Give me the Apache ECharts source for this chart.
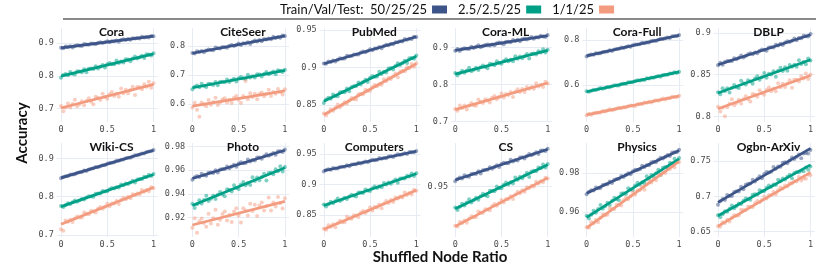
<!DOCTYPE html>
<html><head><meta charset="utf-8">
<script src="https://cdn.jsdelivr.net/npm/echarts@6/dist/echarts.min.js"></script>
<style>html,body{margin:0;padding:0;background:#fff}#chart{width:830px;height:265px}</style>
</head><body><div id="chart"></div>
<script>
// ---- data (accuracy values in units of 1e-4) ----
const panels = ['Cora','CiteSeer','PubMed','Cora-ML','Cora-Full','DBLP','Wiki-CS','Photo','Computers','CS','Physics','Ogbn-ArXiv'];
const groups = ['50/25/25','2.5/2.5/25','1/1/25'];
const ratio = Array.from({length:41},(_,i)=>i/40);
const xTicks = [0,0.5,1];
const yTicks = [[0.7,0.8,0.9],[0.6,0.7,0.8],[0.85,0.9,0.95],[0.7,0.8,0.9],[0.6,0.8],[0.8,0.85,0.9],[0.7,0.8,0.9],[0.92,0.94,0.96,0.98],[0.85,0.9,0.95],[0.95],[0.96,0.98],[0.65,0.7,0.75]];
const yMin = [0.6595,0.538,0.8273,0.6985,0.4356,0.7932,0.6948,0.9033,0.8139,0.9043,0.9473,0.6425];
const yMax = [0.9457,0.862,0.9527,0.9525,0.853,0.906,0.9399,0.9831,0.968,0.9897,0.9955,0.7755];
const fitBlue = [[0.885,0.921],[0.775,0.835],[0.905,0.941],[0.892,0.932],[0.729,0.821],[0.862,0.898],[0.849,0.921],[0.953,0.977],[0.9225,0.9545],[0.956,0.984],[0.9697,0.9917],[0.6915,0.768]];
const fitGreen = [[0.799,0.867],[0.656,0.716],[0.855,0.915],[0.828,0.892],[0.570,0.658],[0.828,0.868],[0.774,0.858],[0.930,0.962],[0.8655,0.9175],[0.930,0.970],[0.9574,0.9874],[0.6725,0.7445]];
const fitSalmon = [[0.702,0.774],[0.593,0.645],[0.837,0.905],[0.732,0.804],[0.467,0.551],[0.809,0.849],[0.728,0.824],[0.9135,0.9335],[0.8265,0.8905],[0.914,0.958],[0.952,0.986],[0.658,0.734]];

const coraBlue = [8856,8843,8892,8873,8898,8865,8906,8931,8914,8911,8972,8953,8946,8983,8974,8959,9004,9023,8998,9021,9056,9021,9056,9051,9080,9039,9088,9115,9092,9123,9098,9147,9134,9153,9140,9193,9166,9185,9168,9217,9204];
const coraGreen = [7946,8023,8060,8017,8118,8063,8044,8137,8134,8111,8200,8113,8214,8223,8212,8293,8226,8279,8328,8257,8354,8391,8356,8353,8466,8395,8436,8409,8502,8499,8448,8525,8586,8527,8564,8613,8542,8659,8648,8617,8690];
const coraSalmon = [7084,6926,7040,7162,7036,7142,7272,7074,7140,7230,7104,7234,7316,7214,7136,7362,7332,7262,7456,7354,7300,7438,7512,7386,7452,7366,7616,7474,7580,7470,7568,7666,7420,7662,7656,7594,7748,7670,7824,7634,7772];
const citeBlue = [7759,7741,7816,7789,7828,7780,7843,7882,7858,7855,7948,7921,7912,7969,7957,7936,8005,8035,7999,8035,8089,8038,8092,8086,8131,8071,8146,8188,8155,8203,8167,8242,8224,8254,8236,8317,8278,8308,8284,8359,8341];
const citeGreen = [6505,6595,6635,6575,6695,6620,6590,6700,6690,6655,6760,6645,6765,6770,6750,6845,6755,6815,6870,6775,6890,6930,6880,6870,7005,6910,6955,6915,7025,7015,6945,7035,7105,7025,7065,7120,7025,7165,7145,7100,7185];
const citeSalmon = [5882,6047,5804,5560,6054,5979,5920,6141,5978,6071,6220,5969,6054,6155,6200,6053,6146,6031,6212,6273,6150,6035,6280,6790,6162,6367,6244,6353,6166,6347,6400,6269,6346,6495,6276,6417,6350,6515,6416,6325,6506];
const pubBlue = [9053,9051,9080,9075,9092,9080,9105,9122,9118,9121,9156,9151,9152,9175,9175,9172,9199,9213,9205,9221,9243,9230,9252,9254,9273,9257,9286,9304,9297,9317,9309,9338,9336,9350,9348,9379,9370,9384,9380,9409,9407];
const pubGreen = [8528,8573,8598,8583,8640,8619,8616,8669,8674,8669,8720,8683,8740,8751,8752,8799,8772,8805,8836,8807,8862,8887,8876,8881,8944,8915,8942,8935,8988,8993,8974,9019,9056,9033,9058,9089,9060,9125,9126,9117,9160];
const pubSalmon = [8386,8359,8400,8443,8424,8463,8508,8471,8500,8535,8516,8561,8594,8581,8574,8643,8648,8643,8704,8691,8690,8737,8768,8749,8778,8769,8844,8821,8860,8845,8882,8919,8870,8943,8954,8951,9002,8995,9046,9011,9058];
const mlBlue = [8908,8956,8902,8958,8978,8966,8958,9020,8986,9016,9060,9004,9032,9064,9082,9052,9082,9060,9112,9134,9110,9088,9156,9154,9140,9198,9174,9208,9168,9220,9240,9214,9240,9284,9236,9278,9268,9316,9298,9282,9334];
const mlGreen = [8312,8240,8304,8372,8316,8376,8448,8356,8396,8448,8392,8464,8512,8468,8436,8556,8548,8520,8624,8580,8560,8636,8680,8624,8664,8628,8760,8696,8756,8708,8764,8820,8704,8832,8836,8812,8896,8864,8948,8860,8936];
const mlSalmon = [7338,7290,7428,7362,7428,7320,7434,7500,7440,7422,7596,7530,7500,7602,7566,7512,7638,7686,7602,7662,7758,7644,7740,7716,7794,7662,7800,7872,7794,7878,7794,7932,7884,7932,7884,8034,7944,7992,7932,8070,8022];
const fullBlue = [7268,7321,7354,7347,7412,7399,7404,7465,7478,7481,7540,7511,7576,7595,7604,7659,7640,7681,7720,7699,7762,7795,7792,7805,7876,7855,7890,7891,7952,7965,7954,8007,8052,8037,8070,8109,8088,8161,8170,8169,8220];
const fullGreen = [5716,5694,5740,5788,5774,5818,5868,5836,5870,5910,5896,5946,5984,5976,5974,6048,6058,6058,6124,6116,6120,6172,6208,6194,6228,6224,6304,6286,6330,6320,6362,6404,6360,6438,6454,6456,6512,6510,6566,6536,6588];
const fullSalmon = [4658,4717,4674,4741,4772,4771,4774,4847,4824,4865,4920,4875,4914,4957,4986,4967,5008,4997,5060,5093,5080,5069,5148,5157,5154,5223,5210,5255,5226,5289,5320,5305,5342,5397,5360,5413,5414,5473,5466,5461,5524];
const dblpBlue = [8614,8642,8619,8651,8665,8663,8663,8698,8685,8704,8730,8706,8724,8744,8757,8746,8765,8758,8788,8803,8795,8788,8826,8829,8826,8859,8851,8872,8856,8886,8900,8891,8908,8934,8914,8939,8938,8966,8961,8957,8987];
const dblpGreen = [8289,8266,8336,8304,8338,8285,8343,8377,8348,8340,8428,8396,8382,8434,8417,8391,8455,8480,8439,8470,8519,8463,8512,8501,8541,8476,8546,8583,8545,8588,8547,8617,8594,8619,8596,8672,8628,8653,8624,8694,8671];
const dblpSalmon = [8114,8058,8104,8000,8109,8152,8204,8133,8161,8198,8154,8206,8240,8205,8179,8267,8259,8236,8312,8277,8260,8315,8346,8302,8330,8301,8398,8348,8391,8353,8393,8433,8344,8438,8439,8419,8480,8454,8515,8447,8502];
const wikiBlue = [8479,8512,8535,8538,8577,8577,8586,8623,8636,8644,8680,8672,8711,8727,8738,8772,8769,8796,8822,8818,8856,8879,8884,8897,8939,8935,8959,8966,9003,9016,9017,9050,9079,9078,9101,9127,9123,9166,9177,9183,9215];
const wikiGreen = [7756,7733,7778,7825,7810,7853,7902,7869,7902,7941,7926,7975,8012,8003,8000,8073,8082,8081,8146,8137,8140,8191,8226,8211,8244,8239,8318,8299,8342,8331,8372,8413,8368,8445,8460,8461,8516,8513,8568,8537,8588];
const wikiSalmon = [7150,7110,7376,7344,7400,7340,7428,7484,7456,7456,7584,7552,7544,7624,7612,7588,7684,7728,7684,7736,7812,7748,7824,7820,7884,7808,7912,7972,7932,8000,7956,8060,8040,8084,8064,8176,8128,8172,8144,8248,8228];
const photoBlue = [9519,9540,9551,9542,9569,9557,9554,9579,9580,9576,9600,9580,9607,9611,9610,9632,9617,9632,9646,9630,9656,9667,9660,9661,9691,9675,9687,9682,9707,9708,9697,9718,9735,9722,9733,9747,9731,9762,9761,9755,9775];
const photoGreen = [9316,9280,9312,9346,9318,9348,9384,9338,9358,9384,9356,9392,9416,9394,9378,9438,9434,9420,9472,9450,9440,9478,9500,9472,9492,9474,9540,9508,9538,9514,9542,9570,9512,9576,9578,9566,9608,9592,9634,9590,9628];
const photoSalmon = [9111,9192,9069,9166,9191,9152,9121,9230,9147,9192,9265,9138,9179,9228,9249,9174,9219,9160,9249,9278,9215,9156,9277,9258,9215,9316,9253,9306,9211,9300,9325,9258,9295,9368,9257,9326,9291,9372,9321,9274,9363];
const compBlue = [9214,9237,9250,9243,9272,9262,9261,9288,9291,9289,9315,9297,9326,9332,9333,9357,9344,9361,9377,9363,9391,9404,9399,9402,9434,9420,9434,9431,9458,9461,9452,9475,9494,9483,9496,9512,9498,9531,9532,9528,9550];
const compGreen = [8671,8640,8677,8716,8693,8728,8769,8728,8753,8784,8761,8802,8831,8814,8803,8868,8869,8860,8917,8900,8895,8938,8965,8942,8967,8954,9025,8998,9033,9014,9047,9080,9027,9096,9103,9096,9143,9132,9179,9140,9183];
const compSalmon = [8274,8257,8333,8307,8347,8300,8364,8404,8381,8379,8473,8447,8439,8497,8486,8466,8536,8567,8532,8569,8624,8574,8629,8624,8670,8611,8687,8730,8698,8747,8712,8788,8771,8802,8785,8867,8829,8860,8837,8913,8896];
const csBlue = [9549,9571,9583,9575,9603,9592,9590,9616,9618,9615,9640,9621,9649,9654,9654,9677,9663,9679,9694,9679,9706,9718,9712,9714,9745,9730,9743,9739,9765,9767,9757,9779,9797,9785,9797,9812,9797,9829,9829,9824,9845];
const csGreen = [9312,9289,9317,9346,9330,9356,9387,9356,9376,9399,9382,9413,9435,9422,9414,9464,9464,9458,9501,9488,9485,9518,9538,9521,9540,9530,9584,9564,9590,9576,9602,9626,9587,9639,9644,9640,9675,9667,9702,9674,9706];
const csSalmon = [9145,9139,9180,9170,9193,9173,9208,9231,9222,9224,9274,9264,9263,9295,9292,9285,9324,9342,9328,9349,9380,9357,9388,9388,9414,9388,9429,9453,9440,9468,9454,9495,9489,9508,9502,9546,9530,9549,9540,9581,9575];
const phyBlue = [9692,9705,9713,9711,9727,9723,9724,9739,9742,9743,9757,9750,9766,9770,9772,9786,9781,9791,9800,9795,9810,9818,9817,9820,9838,9832,9841,9841,9856,9859,9856,9869,9880,9876,9884,9893,9888,9906,9908,9907,9920];
const phyGreen = [9582,9568,9587,9608,9597,9616,9637,9618,9631,9648,9637,9659,9674,9667,9662,9696,9697,9694,9723,9716,9714,9737,9751,9741,9754,9749,9785,9773,9791,9783,9800,9818,9792,9828,9832,9830,9854,9850,9874,9856,9878];
const phySalmon = [9523,9521,9549,9544,9560,9548,9572,9589,9584,9587,9621,9616,9616,9639,9638,9635,9661,9675,9666,9682,9703,9690,9711,9713,9731,9715,9743,9761,9753,9773,9764,9793,9790,9804,9801,9832,9822,9836,9831,9860,9857];
const arxBlue = [6883,6932,6961,6950,7021,7004,7005,7062,7071,7070,7135,7102,7163,7178,7183,7234,7211,7248,7283,7258,7317,7346,7339,7348,7415,7390,7421,7418,7475,7484,7469,7508,7549,7530,7559,7594,7539,7608,7613,7608,7655];
const arxGreen = [6731,6705,6747,6791,6783,6823,6869,6833,6863,6899,6891,6937,6971,6959,6953,7023,7029,7025,7087,7075,7075,7123,7155,7137,7167,7159,7235,7213,7253,7239,7277,7305,7257,7331,7343,7341,7363,7357,7409,7375,7423];
const arxSalmon = [6576,6573,6632,6623,6668,6645,6696,6731,6724,6731,6812,6803,6806,6853,6854,6849,6904,6933,6918,6951,6996,6971,7016,7021,7060,7029,7088,7125,7112,7153,7138,7187,7184,7213,7210,7273,7226,7255,7248,7307,7304];

const points = [
  [coraBlue,coraGreen,coraSalmon],[citeBlue,citeGreen,citeSalmon],[pubBlue,pubGreen,pubSalmon],
  [mlBlue,mlGreen,mlSalmon],[fullBlue,fullGreen,fullSalmon],[dblpBlue,dblpGreen,dblpSalmon],
  [wikiBlue,wikiGreen,wikiSalmon],[photoBlue,photoGreen,photoSalmon],[compBlue,compGreen,compSalmon],
  [csBlue,csGreen,csSalmon],[phyBlue,phyGreen,phySalmon],[arxBlue,arxGreen,arxSalmon]
];
const fits = [fitBlue, fitGreen, fitSalmon];

// ---- styling / layout ----
const colors = ['#3C5488','#00A087','#F39B7F'];
const colX0 = [61,192.4,323.8,455.2,586.6,718];
const unitW = 92.5, padX = 0.045;
const rowTop = [28,143], plotH = 94;
const tickFont = {fontFamily:'DejaVu Sans Mono', fontSize:8.5, color:'#4a4a4a'};
const gridColor = '#e7ebf4';
const fmt = v => String(parseFloat(Number(v).toFixed(4)));

const grid = [], xAxis = [], yAxis = [], scatterSeries = [], lineSeries = [], graphic = [];
panels.forEach((name, k) => {
  const c = k % 6, r = Math.floor(k / 6);
  grid.push({left: colX0[c] - padX*unitW, top: rowTop[r], width: (1+2*padX)*unitW, height: plotH, containLabel:false});
  xAxis.push({type:'value', gridIndex:k, min:-padX, max:1+padX,
    axisLine:{show:false}, axisTick:{show:false, customValues:xTicks},
    axisLabel:{customValues:xTicks, formatter:fmt, margin:3, ...tickFont},
    splitLine:{show:true, lineStyle:{color:gridColor, width:1}}});
  yAxis.push({type:'value', gridIndex:k, min:yMin[k], max:yMax[k],
    axisLine:{show:false}, axisTick:{show:false, customValues:yTicks[k]},
    axisLabel:{customValues:yTicks[k], formatter:fmt, margin:3, ...tickFont},
    splitLine:{show:true, lineStyle:{color:gridColor, width:1}}});
  points[k].forEach((arr, g) => {
    scatterSeries.push({type:'scatter', name:groups[g], xAxisIndex:k, yAxisIndex:k, symbolSize:4, z:2,
      silent:true, itemStyle:{color:colors[g], opacity:0.5},
      data: ratio.map((x,i)=>[x, arr[i]/10000])});
    lineSeries.push({type:'line', name:groups[g], xAxisIndex:k, yAxisIndex:k, z:4, silent:true,
      symbol:'none', showSymbol:false, lineStyle:{width:2.7, color:colors[g]}, itemStyle:{color:colors[g]},
      data:[[0, fits[g][k][0]], [1, fits[g][k][1]]]});
  });
  graphic.push({type:'text', x: colX0[c] + 50.5, y: r ? 147.5 : 32.5, z:10,
    style:{text:name, align:'center', verticalAlign:'middle', font:'bold 12px Lato', fill:'#111'}});
});

graphic.push({type:'text', x:22, y:133, rotation:Math.PI/2,
  style:{text:'Accuracy', align:'center', verticalAlign:'middle', font:'bold 15px Lato', fill:'#111'}});
graphic.push({type:'text', x:440, y:257,
  style:{text:'Shuffled Node Ratio', align:'center', verticalAlign:'middle', font:'bold 15px Lato', fill:'#111'}});
graphic.push({type:'line', shape:{x1:63, y1:19, x2:816, y2:19}, style:{stroke:'#8a8a8a', lineWidth:2}});

const chart = echarts.init(document.getElementById('chart'), null, {renderer:'canvas'});
chart.setOption({
  animation:false,
  backgroundColor:'#fff',
  legend:{data: groups.map((g,i)=>({name:g, itemStyle:{color:colors[i], opacity:1}})),
    left:280, top:3, padding:0, align:'right', icon:'rect', itemWidth:15, itemHeight:8, itemGap:11,
    selectedMode:false,
    formatter: n => n === groups[0] ? 'Train/Val/Test:  ' + n : n,
    textStyle:{fontFamily:'Lato', fontSize:13, color:'#111'}},
  grid, xAxis, yAxis,
  series: scatterSeries.concat(lineSeries),
  graphic
});
</script></body></html>
